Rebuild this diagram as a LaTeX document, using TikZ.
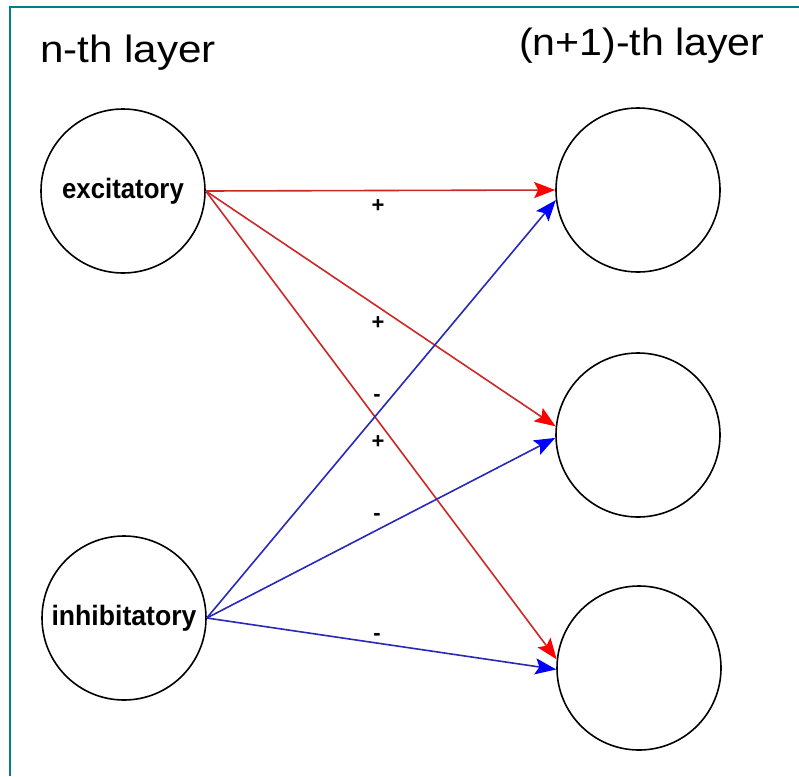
\documentclass[tikz,border=0pt]{standalone}
\usepackage{graphicx}
\usepackage{fontspec}
\setmainfont{Liberation Sans}
\usetikzlibrary{arrows.meta}

\definecolor{frameteal}{RGB}{0,128,128}
\definecolor{exline}{RGB}{205,40,40}
\definecolor{exhead}{RGB}{255,0,0}
\definecolor{inline}{RGB}{40,40,185}
\definecolor{inhead}{RGB}{0,0,255}

\begin{document}
\begin{tikzpicture}[x=1pt,y=-1pt,
  neuron/.style={circle,draw=black,line width=1.6pt,minimum size=164pt,inner sep=0pt},
  celltext/.style={font=\bfseries\fontsize{28}{32}\selectfont},
  layertitle/.style={font=\fontsize{38}{44}\selectfont,inner sep=0pt,anchor=base west},
  sign/.style={font=\bfseries\fontsize{22}{26}\selectfont,inner sep=0pt},
  excarrow/.style={draw=exline,line width=1.6pt,-{Stealth[length=21pt,width=16pt,inset=4pt,color=exhead]}},
  inharrow/.style={draw=inline,line width=1.6pt,-{Stealth[length=21pt,width=16pt,inset=4pt,color=inhead]}}
]
\useasboundingbox (0,0) rectangle (799,776);
\fill[white] (0,0) rectangle (799,776);

% frame along the left and top edges
\draw[frameteal,line width=2.5pt] (10,776) -- (10,7) -- (799,7);

% layer titles
\node[layertitle] (ttlA) at (40,63) {\scalebox{1.11}[1]{n-th layer}};
\node[layertitle] (ttlB) at (519,56) {\scalebox{1.08}[1]{(n+1)-th layer}};

% n-th layer
\node[neuron,celltext] (exc) at (123,191) {\scalebox{0.92}[1]{excitatory}};
\node[neuron,celltext] (inh) at (124,618) {\scalebox{0.95}[1]{inhibitatory}};

% (n+1)-th layer
\node[neuron] (r1) at (638,190) {};
\node[neuron] (r2) at (638,435) {};
\node[neuron] (r3) at (639,668) {};

% excitatory connections
\draw[excarrow] (exc.east) -- (r1.180);
\draw[excarrow] (exc.east) -- (r2.174);
\draw[excarrow] (exc.east) -- (r3.174);

% inhibitory connections
\draw[inharrow] (inh.east) -- (r1.187);
\draw[inharrow] (inh.east) -- (r2.182);
\draw[inharrow] (inh.east) -- (r3.181);

% signs of the weights
\node[sign] (s1) at (378,206) {+};
\node[sign] (s2) at (378,323) {+};
\node[sign] (s3) at (377,398) {-};
\node[sign] (s4) at (378,442) {+};
\node[sign] (s5) at (377,517) {-};
\node[sign] (s6) at (377,637) {-};
\end{tikzpicture}
\end{document}
